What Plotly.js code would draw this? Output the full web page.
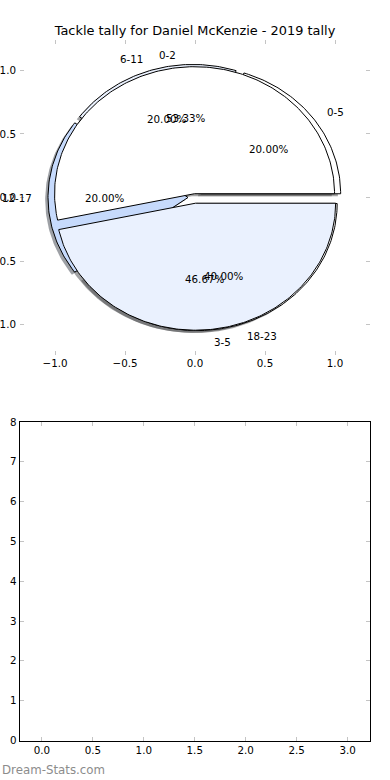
<!DOCTYPE html>
<html>
<head>
<meta charset="utf-8">
<script src="https://cdn.plot.ly/plotly-3.0.1.min.js"></script>
<style>html,body{margin:0;padding:0;background:#fff;}#chart{width:390px;height:780px;}</style>
</head>
<body>
<div id="chart"></div>
<script>
// ---- data ----
const titleText = 'Tackle tally for Daniel McKenzie - 2019 tally';
const hourLabels = ['0-5', '6-11', '12-17', '18-23'];
const hourValues = [1, 1, 1, 2];
const hourExplode = [0.05, 0.05, 0.05, 0.05];
const periodLabels = ['0-2', '3-5'];
const periodValues = [8, 7];
const periodExplode = [0.03, 0.045];
const sliceColors = ['#ffffff', '#eaf1fe', '#c6dafc'];
const pieTicks = [-1, -0.5, 0, 0.5, 1];
const lowerXTicks = [0, 0.5, 1, 1.5, 2, 2.5, 3];
const lowerYTicks = [0, 1, 2, 3, 4, 5, 6, 7, 8];
const watermark = 'Dream-Stats.com';

const FONT = 'DejaVu Sans';
const D2R = Math.PI / 180;

function hexToRgb(h) {
  return [parseInt(h.slice(1, 3), 16), parseInt(h.slice(3, 5), 16), parseInt(h.slice(5, 7), 16)];
}

function buildPie(values, labels, explode) {
  const total = values.reduce((a, b) => a + b, 0);
  let t1 = 0;
  const out = [];
  values.forEach((v, i) => {
    const t2 = t1 + 360 * v / total;
    const mid = (t1 + t2) / 2;
    const ox = explode[i] * Math.cos(mid * D2R);
    const oy = explode[i] * Math.sin(mid * D2R);
    const xs = [ox], ys = [oy];
    const n = Math.max(8, Math.ceil((t2 - t1) / 1));
    for (let k = 0; k <= n; k++) {
      const a = (t1 + (t2 - t1) * k / n) * D2R;
      xs.push(ox + Math.cos(a));
      ys.push(oy + Math.sin(a));
    }
    xs.push(ox); ys.push(oy);
    out.push({xs, ys, mid, ox, oy, label: labels[i], pct: (100 * v / total).toFixed(2) + '%',
              color: sliceColors[i % sliceColors.length]});
    t1 = t2;
  });
  return out;
}

const pieA = buildPie(hourValues, hourLabels, hourExplode);
const pieB = buildPie(periodValues, periodLabels, periodExplode);

const traces = [];
// shadows (below all wedges)
[pieA, pieB].forEach(p => p.forEach(w => {
  const c = hexToRgb(w.color).map(x => Math.round(x * 0.3));
  traces.push({
    type: 'scatter', mode: 'lines', x: w.xs.map(x => x - 0.02), y: w.ys.map(y => y - 0.02),
    fill: 'toself', fillcolor: `rgba(${c[0]},${c[1]},${c[2]},0.5)`,
    line: {width: 0, color: 'rgba(0,0,0,0)'}, hoverinfo: 'skip', xaxis: 'x', yaxis: 'y'
  });
}));
// wedges
[pieA, pieB].forEach(p => p.forEach(w => {
  traces.push({
    type: 'scatter', mode: 'lines', x: w.xs, y: w.ys, fill: 'toself', fillcolor: w.color,
    line: {width: 1, color: '#000000'}, hoverinfo: 'skip', xaxis: 'x', yaxis: 'y'
  });
}));
// empty lower axes
traces.push({type: 'scatter', mode: 'markers', x: [], y: [], xaxis: 'x2', yaxis: 'y2', hoverinfo: 'skip'});

const annotations = [];
[pieA, pieB].forEach(p => p.forEach(w => {
  const xt = w.ox + 1.1 * Math.cos(w.mid * D2R);
  const yt = w.oy + 1.1 * Math.sin(w.mid * D2R);
  annotations.push({x: xt, y: yt, xref: 'x', yref: 'y', text: w.label, showarrow: false,
    xanchor: xt < 0 ? 'right' : 'left', yanchor: 'middle', font: {family: FONT, size: 10.3, color: '#000'}});
  const xp = w.ox + 0.6 * Math.cos(w.mid * D2R);
  const yp = w.oy + 0.6 * Math.sin(w.mid * D2R);
  annotations.push({x: xp, y: yp, xref: 'x', yref: 'y', text: w.pct, showarrow: false,
    xanchor: 'center', yanchor: 'middle', font: {family: FONT, size: 10.3, color: '#000'}});
}));
annotations.push({x: 0, y: 1 - 770 / 780, xref: 'paper', yref: 'paper', text: watermark, showarrow: false,
  xanchor: 'left', yanchor: 'middle', font: {family: FONT, size: 11.8, color: '#8c8c8c'}});

const tickCol = '#c4c4c4';
const axBase = {
  showgrid: false, zeroline: false, ticks: 'inside', ticklen: 4, tickwidth: 1, tickcolor: tickCol,
  mirror: 'ticks', fixedrange: true, tickfont: {family: FONT, size: 10.3, color: '#000'}
};

const layout = {
  width: 390, height: 780, margin: {l: 0, r: 0, t: 0, b: 0},
  paper_bgcolor: '#ffffff', plot_bgcolor: '#ffffff', showlegend: false,
  font: {family: FONT, size: 10.3, color: '#000'},
  title: {text: titleText, x: 0.5, xanchor: 'center', y: 1 - 30 / 780, yanchor: 'middle',
    font: {family: FONT, size: 12.9, color: '#000'}},
  xaxis: Object.assign({}, axBase, {domain: [20 / 390, 370 / 390], range: [-1.25, 1.25], tickvals: pieTicks,
    tickformat: '.1f', showline: false, anchor: 'y', ticklabelstandoff: 1}),
  yaxis: Object.assign({}, axBase, {domain: [1 - 355 / 780, 1 - 40 / 780], range: [-1.24, 1.24], tickvals: pieTicks,
    tickformat: '.1f', showline: false, anchor: 'x', ticklabelstandoff: 3}),
  xaxis2: Object.assign({}, axBase, {domain: [19.5 / 390, 370 / 390], range: [-0.22, 3.22], tickvals: lowerXTicks,
    tickformat: '.1f', showline: true, linecolor: '#000', linewidth: 1, anchor: 'y2'}),
  yaxis2: Object.assign({}, axBase, {domain: [1 - 740.5 / 780, 1 - 422 / 780], range: [0, 8], tickvals: lowerYTicks,
    tickformat: 'd', showline: true, linecolor: '#000', linewidth: 1, anchor: 'x2'}),
  annotations: annotations
};

Plotly.newPlot('chart', traces, layout, {displayModeBar: false, staticPlot: true});
</script>
</body>
</html>
